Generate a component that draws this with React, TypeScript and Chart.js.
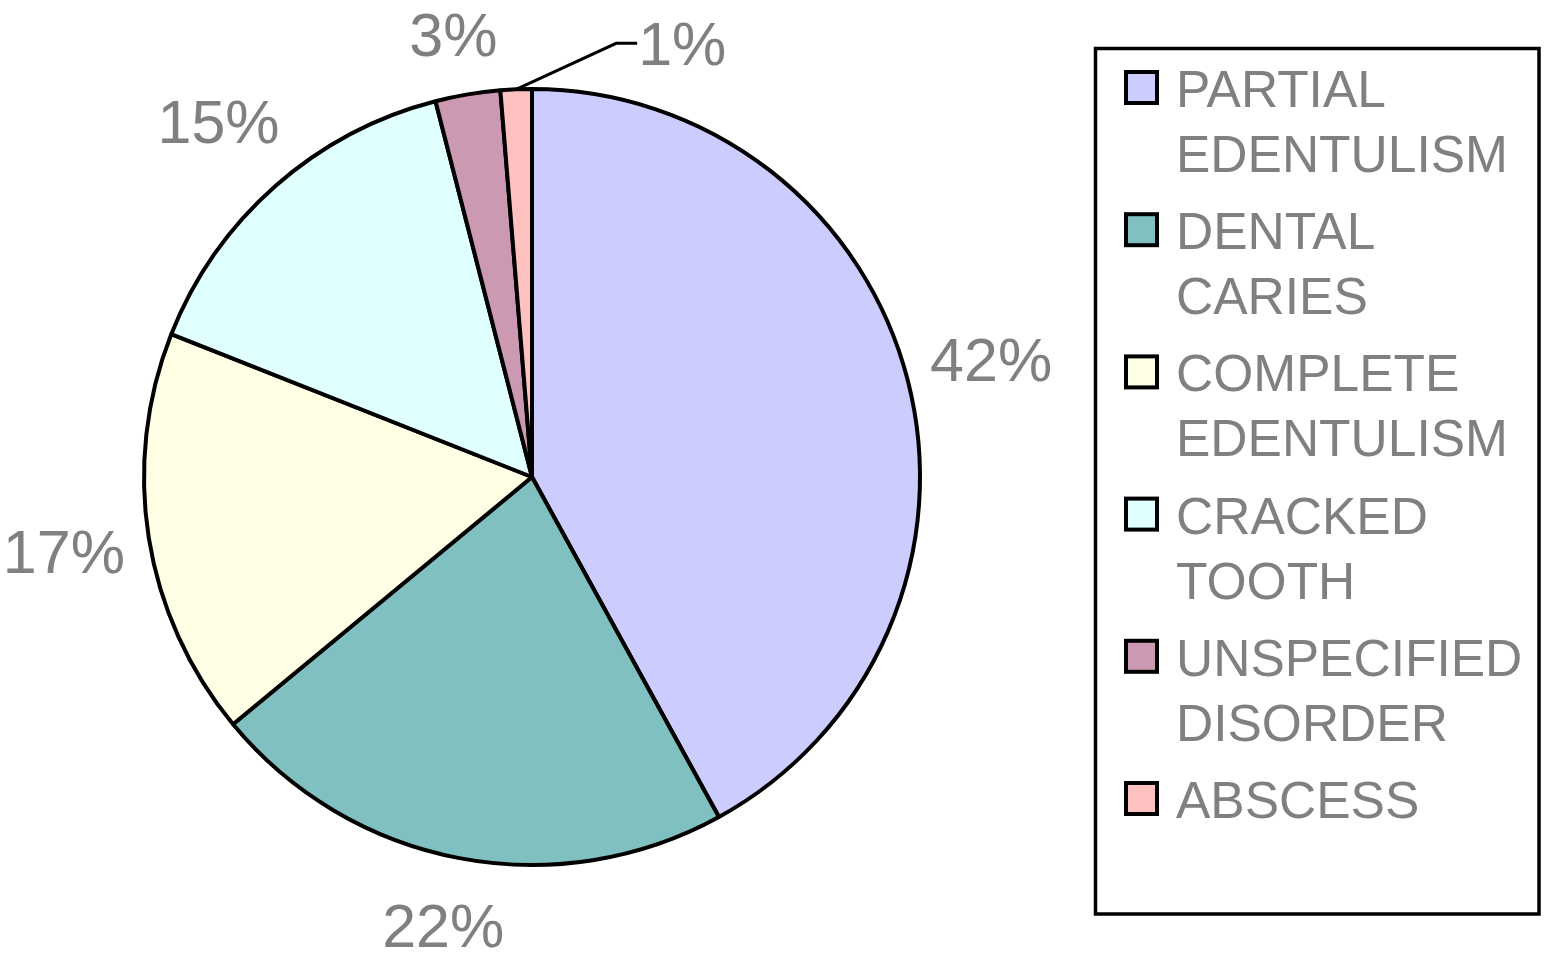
import React, { useEffect, useRef } from "react";
import { Chart, registerables } from "chart.js";

Chart.register(...registerables);

// ---- data ----
const categories: string[] = [
  "PARTIAL EDENTULISM",
  "DENTAL CARIES",
  "COMPLETE EDENTULISM",
  "CRACKED TOOTH",
  "UNSPECIFIED DISORDER",
  "ABSCESS",
];
const values: number[] = [42, 22, 17, 15, 2.7, 1.3];
const colors: string[] = ["#CCCCFF", "#80C0C0", "#FFFFE6", "#E0FFFF", "#CC99B3", "#FFC0C0"];

const FONT = "'Liberation Sans', Arial, sans-serif";
const TEXT_GREY = "#808080";

const labelPlugin = {
  id: "pieLabels",
  afterDatasetsDraw(chart: any) {
    const ctx = chart.ctx as CanvasRenderingContext2D;
    const meta = chart.getDatasetMeta(0);
    const data = chart.data.datasets[0].data as number[];
    const total = data.reduce((a, b) => a + b, 0);
    const H = chart.height as number;
    ctx.save();
    ctx.font = `61px ${FONT}`;
    ctx.fillStyle = TEXT_GREY;
    meta.data.forEach((arc: any, i: number) => {
      const p = arc.getProps(["x", "y", "startAngle", "endAngle", "outerRadius"], true);
      const a = (p.startAngle + p.endAngle) / 2;
      const pct = (data[i] / total) * 100;
      const text = `${Math.round(pct)}%`;
      const capHalf = 61 * 0.358;
      if (pct < 2) {
        const x0 = p.x + Math.cos(a) * p.outerRadius;
        const y0 = p.y + Math.sin(a) * p.outerRadius;
        const x1 = x0 + 100;
        const y1 = y0 - 46;
        const x2 = x1 + 21;
        ctx.strokeStyle = "#000";
        ctx.lineWidth = 3;
        ctx.beginPath();
        ctx.moveTo(x0, y0);
        ctx.lineTo(x1, y1);
        ctx.lineTo(x2, y1);
        ctx.stroke();
        ctx.textAlign = "left";
        ctx.textBaseline = "alphabetic";
        ctx.fillText(text, x2 + 1, y1 + capHalf);
      } else {
        const d = p.outerRadius + 86;
        const cx = p.x + Math.cos(a) * d;
        let cy = p.y + Math.sin(a) * d;
        // keep labels inside the chart frame
        cy = Math.max(cy, capHalf + 12);
        cy = Math.min(cy, H - capHalf - 6);
        ctx.textAlign = "center";
        ctx.textBaseline = "alphabetic";
        ctx.fillText(text, cx, cy + capHalf);
      }
    });
    ctx.restore();
  },
};

const legendPlugin = {
  id: "boxLegend",
  afterDraw(chart: any) {
    const ctx = chart.ctx as CanvasRenderingContext2D;
    const left = 1095.5, top = 48.5, right = 1539, bottom = 914;
    ctx.save();
    ctx.fillStyle = "#fff";
    ctx.fillRect(left, top, right - left, bottom - top);
    ctx.strokeStyle = "#000";
    ctx.lineWidth = 3.5;
    ctx.strokeRect(left, top, right - left, bottom - top);

    ctx.font = `51.5px ${FONT}`;
    const textX = 1176;
    const maxW = 360;
    const firstBase = 107;
    const stride = 142.2;
    const lineH = 65;
    const labels = chart.data.labels as string[];
    const bg = chart.data.datasets[0].backgroundColor as string[];
    labels.forEach((lab, i) => {
      const base = firstBase + i * stride;
      const words = lab.split(" ");
      const lines: string[] = [];
      let cur = "";
      words.forEach((w) => {
        const t = cur ? cur + " " + w : w;
        if (cur && ctx.measureText(t).width > maxW) {
          lines.push(cur);
          cur = w;
        } else cur = t;
      });
      if (cur) lines.push(cur);
      ctx.fillStyle = bg[i];
      ctx.fillRect(1126, base - 35, 31, 31);
      ctx.strokeStyle = "#000";
      ctx.lineWidth = 4;
      ctx.strokeRect(1126, base - 35, 31, 31);
      ctx.fillStyle = TEXT_GREY;
      ctx.textAlign = "left";
      ctx.textBaseline = "alphabetic";
      lines.forEach((ln, j) => ctx.fillText(ln, textX, base + j * lineH));
    });
    ctx.restore();
  },
};

export default function App() {
  const ref = useRef<HTMLCanvasElement | null>(null);
  useEffect(() => {
    if (!ref.current) return;
    const chart = new Chart(ref.current, {
      type: "pie",
      data: {
        labels: categories,
        datasets: [
          {
            data: values,
            backgroundColor: colors,
            borderColor: "#000",
            borderWidth: 4,
          },
        ],
      },
      options: {
        responsive: false,
        animation: false,
        devicePixelRatio: 1,
        radius: 388,
        layout: { padding: { left: 100, right: 580, top: 50, bottom: 49 } },
        plugins: {
          legend: { display: false },
          tooltip: { enabled: false },
        },
      } as any,
      plugins: [labelPlugin, legendPlugin],
    });
    return () => chart.destroy();
  }, []);
  return (
    <div style={{ position: "absolute", left: 0, top: 0, width: 1544, height: 953, background: "#fff" }}>
      <canvas ref={ref} width={1544} height={953} style={{ display: "block" }} />
    </div>
  );
}
